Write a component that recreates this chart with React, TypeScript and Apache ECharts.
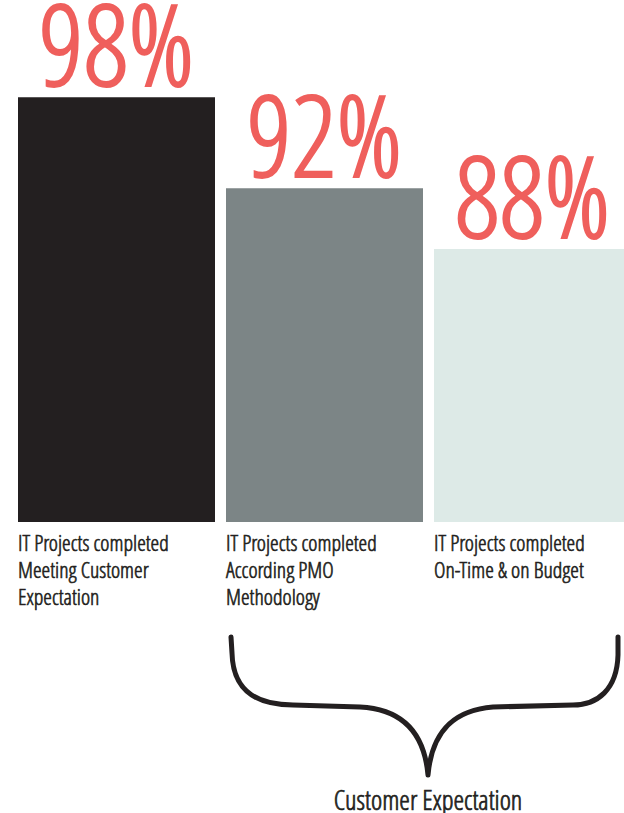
import React, { useEffect, useRef } from "react";
import * as echarts from "echarts";

const categories = [
  "IT Projects completed\nMeeting Customer\nExpectation",
  "IT Projects completed\nAccording PMO\nMethodology",
  "IT Projects completed\nOn-Time & on Budget",
];
const values = [98, 92, 88];
const barColors = ["#231f20", "#7c8586", "#ddeae7"];
const groupLabel = "Customer Expectation";

const FONT =
  "'Open Sans Condensed Light', 'Open Sans Condensed', 'Roboto Condensed', 'Liberation Sans Narrow', 'DejaVu Sans Condensed', sans-serif";
const BRACE_D =
  "M 231 637 L 232 653 C 233 695 262 705 293 705 L 360 707 C 400 709 424 730 428 775 " +
  "M 618 637 L 618 655 C 617 690 597 705 573 705 L 493 707 C 455 710 432 730 428 775";

echarts.graphic.registerShape("brace", echarts.graphic.extendPath(BRACE_D, {}));

export default function App() {
  const ref = useRef<HTMLDivElement>(null);
  useEffect(() => {
    if (!ref.current) return;
    const chart = echarts.init(ref.current, undefined, { renderer: "svg" });
    chart.setOption({
      animation: false,
      backgroundColor: "#ffffff",
      grid: { left: 12.5, width: 624, top: 67, bottom: 291, outerBoundsMode: "none", containLabel: false },
      xAxis: {
        type: "category",
        data: categories,
        axisLine: { show: false },
        axisTick: { show: false },
        axisLabel: {
          interval: 0,
          margin: 6,
          width: 197,
          align: "center",
          verticalAlign: "top",
          overflow: "none",
          hideOverlap: false,
          formatter: (v: string) => v.split("\n").map((l) => `{a|${l}}`).join("\n"),
          rich: {
            a: {
              align: "left",
              fontSize: 22,
              fontWeight: 300,
              lineHeight: 27,
              fontFamily: FONT,
              color: "#231f20",
              textBorderColor: "#231f20",
              textBorderWidth: 0.6,
            },
          },
        },
      },
      yAxis: { type: "value", min: 70, max: 100, show: false, splitLine: { show: false } },
      series: [
        {
          type: "bar",
          barWidth: 197,
          data: values.map((v, i) => ({ value: v, itemStyle: { color: barColors[i] } })),
          label: {
            show: true,
            position: "top",
            distance: 15,
            formatter: "{c}%",
            fontSize: 112,
            fontWeight: 300,
            lineHeight: 80,
            fontFamily: FONT,
            color: "#ef5f5c",
            textBorderColor: "#ef5f5c",
            textBorderWidth: 2,
          },
        },
      ],
      graphic: [
        {
          type: "brace",
          x: 0,
          y: 0,
          style: { fill: "none", stroke: "#231f20", lineWidth: 5, lineCap: "round", lineJoin: "round" },
        },
        {
          type: "text",
          x: 428,
          y: 799,
          style: {
            text: groupLabel,
            fontSize: 27,
            fontWeight: 300,
            lineHeight: 27,
            fontFamily: FONT,
            fill: "#231f20",
            stroke: "#231f20",
            lineWidth: 0.7,
            align: "center",
            verticalAlign: "middle",
          },
        },
      ],
    });
    return () => chart.dispose();
  }, []);
  return <div ref={ref} style={{ position: "absolute", left: 0, top: 0, width: 624, height: 813 }} />;
}
